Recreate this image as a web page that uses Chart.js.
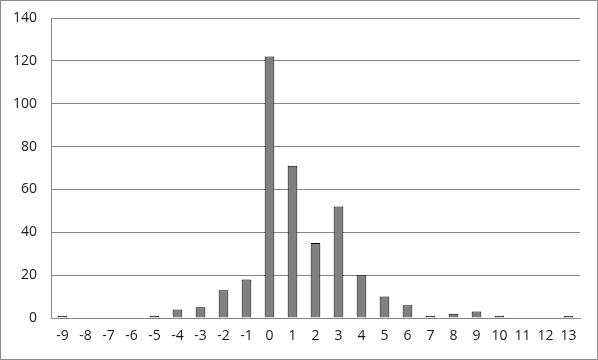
<!DOCTYPE html>
<html>
<head>
<meta charset="utf-8">
<script src="https://cdn.jsdelivr.net/npm/chart.js@4"></script>
<style>
html,body{margin:0;padding:0;background:#fff;}
#wrap{width:598px;height:360px;position:relative;}
</style>
</head>
<body>
<div id="wrap"><canvas id="c" width="598" height="360"></canvas></div>
<script>
const categories = ["-9","-8","-7","-6","-5","-4","-3","-2","-1","0","1","2","3","4","5","6","7","8","9","10","11","12","13"];
const counts = [1,0,0,0,1,4,5,13,18,122,71,35,52,20,10,6,1,2,3,1,0,0,1];
const yTicks = [0,20,40,60,80,100,120,140];

const frame = {
  id:'frame',
  beforeDraw(chart){
    const ctx = chart.ctx;
    ctx.save();
    ctx.fillStyle = '#fff';
    ctx.fillRect(0,0,chart.width,chart.height);
    ctx.restore();
  },
  afterDraw(chart){
    const ctx = chart.ctx;
    ctx.save();
    ctx.strokeStyle = '#8c8c8c';
    ctx.lineWidth = 1;
    ctx.strokeRect(0.5,0.5,chart.width-1,chart.height-1);
    ctx.restore();
  }
};

new Chart(document.getElementById('c'), {
  type:'bar',
  data:{
    labels:categories,
    datasets:[{
      data:counts,
      backgroundColor:'#808080',
      borderColor:'#000',
      borderWidth:1,
      barPercentage:0.42,
      categoryPercentage:1.0
    }]
  },
  options:{
    responsive:false,
    animation:false,
    devicePixelRatio:1,
    layout:{padding:{top:18,right:18,bottom:0,left:0}},
    plugins:{legend:{display:false},tooltip:{enabled:false}},
    scales:{
      x:{
        grid:{display:false,drawTicks:false},
        border:{display:true,color:'#868686',width:1},
        ticks:{color:'#1a1a1a',font:{family:'"Open Sans", sans-serif',size:14},padding:10,maxRotation:0,autoSkip:false},
        afterFit(s){ s.height = 42; }
      },
      y:{
        min:0,max:140,
        afterBuildTicks(s){ s.ticks = yTicks.map(v=>({value:v})); },
        grid:{color:'#868686',drawTicks:false,lineWidth:1},
        border:{display:true,color:'#868686',width:1},
        ticks:{color:'#1a1a1a',font:{family:'"Open Sans", sans-serif',size:14},padding:14},
        afterFit(s){ s.width = 51; s.paddingTop = 0; s.paddingBottom = 0; }
      }
    }
  },
  plugins:[frame, {
    id:'fixTop',
    afterLayout(chart){}
  }]
});
</script>
</body>
</html>
